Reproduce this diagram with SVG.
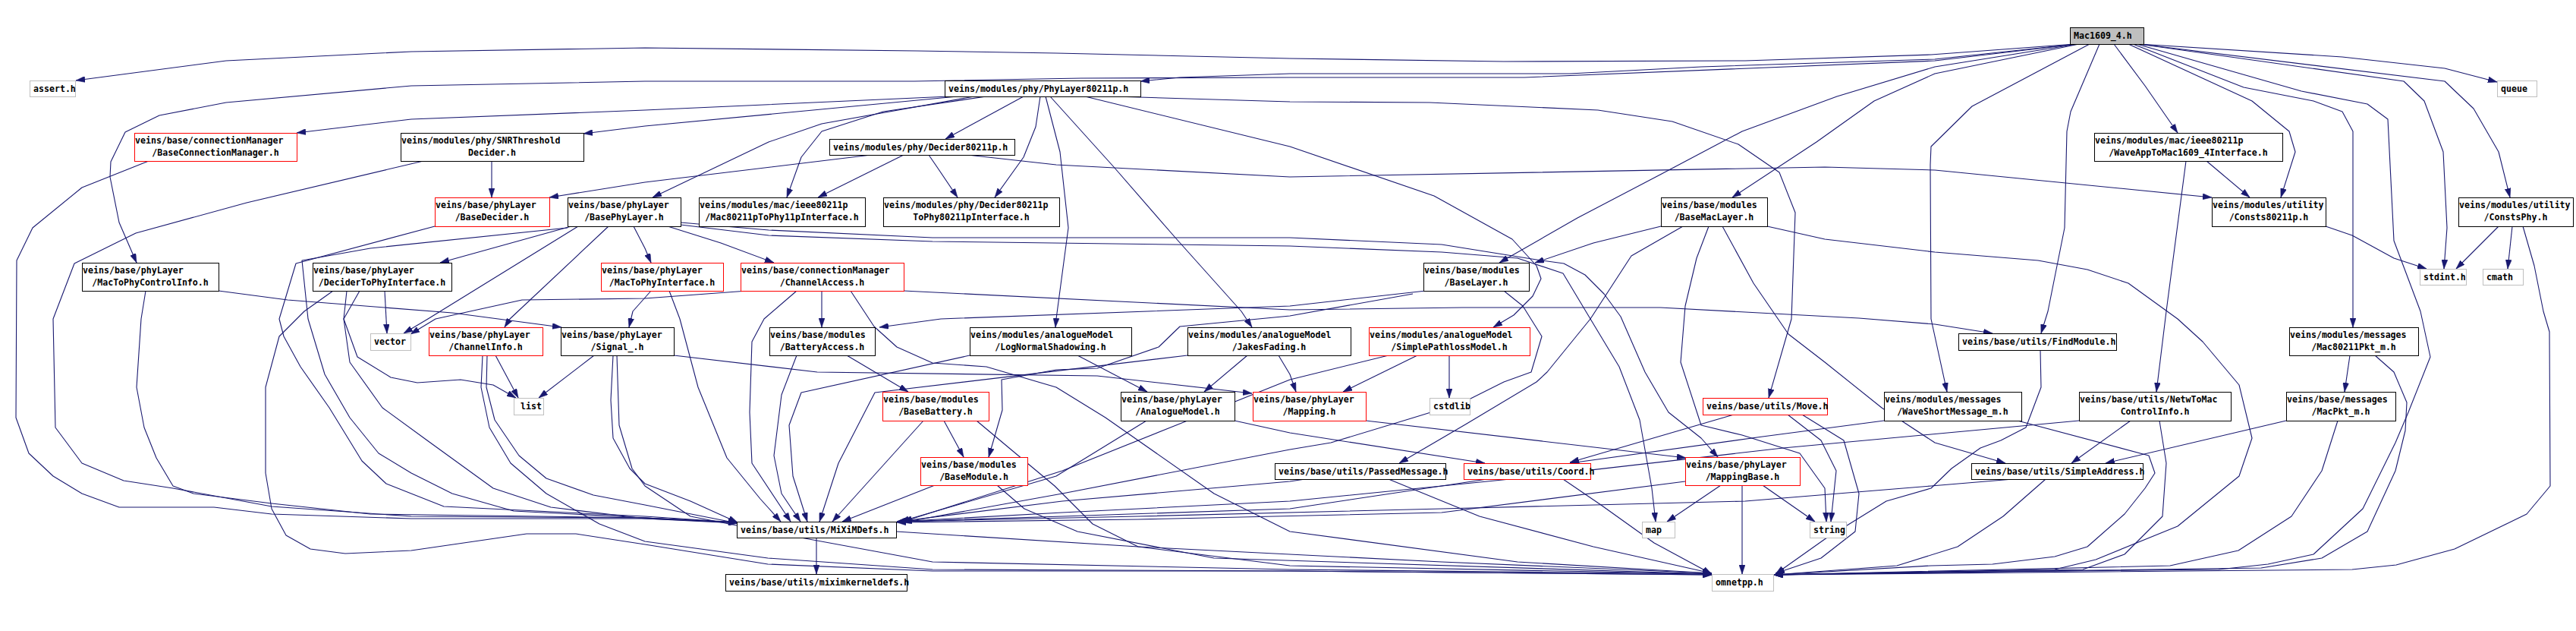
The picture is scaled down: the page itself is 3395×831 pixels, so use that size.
<svg xmlns="http://www.w3.org/2000/svg" width="3395" height="831" viewBox="0 0 3395 831">
<defs>
<marker id="a" markerUnits="userSpaceOnUse" markerWidth="12" markerHeight="8" refX="12" refY="4" orient="auto" viewBox="0 0 12 8">
<path d="M0,0 L12,4 L0,8 z" fill="#191970" stroke="#191970" stroke-width="0.5"/>
</marker>
<style>
.n rect{fill:#fff;stroke:#000;stroke-width:1}
.r rect{fill:#fff;stroke:#f00;stroke-width:1}
.s rect{fill:#fff;stroke:#bfbfbf;stroke-width:1}
.root rect{fill:#bfbfbf;stroke:#000;stroke-width:1}
rect{shape-rendering:crispEdges}
text{font-family:"DejaVu Sans Mono","Liberation Mono",monospace;font-size:11.6px;font-weight:bold;fill:#000}
.c{text-anchor:middle}
.e{fill:none;stroke:#191970;stroke-width:1.1;stroke-linejoin:round;marker-end:url(#a)}
</style>
</defs>
<rect x="0" y="0" width="3395" height="831" fill="#fff"/>
<g id="edges">
<polyline class="e" points="2735,58 2545,72 2300,80 1982,81 1700,77 1392,70 1208,67 850,63 542,68 298,80 100,106"/>
<polyline class="e" points="2737,58 2550,78 2242,88 2069,97 1700,97 1555,102 1503,107"/>
<polyline class="e" points="2737,58 2550,80 2009,102 1700,102 1425,103 1205,107 850,107 542,113 298,135 210,152 165,174 146,213 145,233 157,293 180,346"/>
<polyline class="e" points="2738,58 2550,88 2421,127 2296,173 2188,230 2079,287 1976,346"/>
<polyline class="e" points="2740,58 2550,97 2470,133 2394,187 2283,260"/>
<polyline class="e" points="2786,58 2827,113 2870,175"/>
<polyline class="e" points="2805,58 2968,133 3017,173 3025,200 3006,260"/>
<polyline class="e" points="2811,58 2957,115 3049,133 3087,147 3101,173 3101,431"/>
<polyline class="e" points="2816,58 3033,120 3120,137 3147,157 3155,317 3190,410 3203,470 3174,543 3157,583 3114,670 3049,730 2989,743 2924,750 2600,753 2338,757"/>
<polyline class="e" points="2819,58 3168,107 3195,133 3220,200 3225,300 3221,354"/>
<polyline class="e" points="2819,58 3222,107 3260,143 3293,200 3308,260"/>
<polyline class="e" points="2819,58 3087,75 3222,90 3291,108"/>
<polyline class="e" points="2767,58 2729,147 2724,173 2721,300 2699,410 2690,439"/>
<polyline class="e" points="2754,58 2599,140 2545,193 2544,217 2545,420 2566,516"/>
<polyline class="e" points="1251,127 850,145 542,157 391,175"/>
<polyline class="e" points="1262,127 850,166 769,176"/>
<polyline class="e" points="1284,127 1083,163 1013,187 860,260"/>
<polyline class="e" points="1300,127 1164,147 1083,173 1056,207 1037,260"/>
<polyline class="e" points="1349,127 1246,183"/>
<polyline class="e" points="1371,127 1365,167 1349,207 1311,260"/>
<polyline class="e" points="1378,127 1397,200 1408,300 1392,420 1391,431"/>
<polyline class="e" points="1384,127 1468,220 1549,313 1636,410 1650,431"/>
<polyline class="e" points="1430,127 1700,193 1890,258 1993,315 2025,350 2031,367 2020,390 1995,415 1968,431"/>
<polyline class="e" points="1468,127 1700,134 1884,135 2106,145 2204,160 2291,190 2345,227 2366,280 2361,420 2331,524"/>
<polyline class="e" points="196,212 108,247 43,300 22,343 21,550 38,597 70,627 108,650 157,668 282,668 358,677 542,683 850,683 972,688"/>
<polyline class="e" points="648,212 648,260"/>
<polyline class="e" points="558,212 325,267 179,307 98,347 70,420 73,563 108,610 163,633 228,643 358,667 542,680 850,682 972,688"/>
<polyline class="e" points="1148,204 850,240 724,260"/>
<polyline class="e" points="1191,204 1078,260"/>
<polyline class="e" points="1224,204 1235,220 1262,260"/>
<polyline class="e" points="1275,204 1392,217 1700,233 2405,220 2550,224 2915,260"/>
<polyline class="e" points="2908,212 2965,260"/>
<polyline class="e" points="2881,212 2855,410 2842,516"/>
<polyline class="e" points="573,298 390,347 368,420 374,443 396,483 434,537 450,563 477,607 509,637 585,667 850,680 972,688"/>
<polyline class="e" points="753,298 580,346"/>
<polyline class="e" points="748,300 488,327 398,343 406,420 428,493 461,550 499,597 542,623 596,650 677,673 850,682 972,688"/>
<polyline class="e" points="762,298 564,420 532,439"/>
<polyline class="e" points="802,298 672,420 665,431"/>
<polyline class="e" points="835,298 850,327 858,346"/>
<polyline class="e" points="880,298 950,320 1020,346"/>
<polyline class="e" points="897,293 1013,303 1229,313 1700,313 1900,322 2025,342 2061,347 2089,362 2114,387 2136,417 2168,490 2199,543 2242,577 2264,602"/>
<polyline class="e" points="897,296 1013,310 1229,318 1700,324 1900,332 2000,340 2060,360 2090,410 2134,483 2161,553 2177,643 2182,687"/>
<polyline class="e" points="288,383 379,395 596,412 740,431"/>
<polyline class="e" points="192,383 186,420 180,510 190,563 206,603 228,640 255,650 358,663 488,677 850,682 972,688"/>
<polyline class="e" points="507,383 510,439"/>
<polyline class="e" points="474,383 453,420 471,470 515,497 550,504 607,500 650,507 680,524"/>
<polyline class="e" points="457,383 453,420 461,477 504,537 563,580 650,643 726,668 850,683 972,689"/>
<polyline class="e" points="439,383 401,410 368,443 350,510 350,623 358,670 377,705 409,723 455,729 542,725 694,703 759,703 850,717 1012,743 1229,752 1700,752 2256,757"/>
<polyline class="e" points="858,383 834,410 829,431"/>
<polyline class="e" points="882,383 896,420 920,510 958,603 1002,657 1029,687"/>
<polyline class="e" points="985,383 850,393 688,395 574,420 541,440"/>
<polyline class="e" points="1083,383 1083,431"/>
<polyline class="e" points="1050,383 1007,420 991,450 988,543 991,610 1042,687"/>
<polyline class="e" points="1191,383 1700,408 1928,405 2188,405 2450,419 2550,427 2626,439"/>
<polyline class="e" points="1121,383 1152,430 1182,457 1229,478 1300,483 1392,510 1457,550 1600,650 1700,700 2000,740 2256,755"/>
<polyline class="e" points="653,468 683,524"/>
<polyline class="e" points="642,468 641,510 652,553 684,600 720,630 782,652 850,665 972,689"/>
<polyline class="e" points="636,468 634,510 645,563 673,610 720,650 790,690 850,713 1012,735 1229,750 1700,752 2256,757"/>
<polyline class="e" points="783,468 710,524"/>
<polyline class="e" points="888,468 1077,490 1446,495 1650,518"/>
<polyline class="e" points="808,468 805,527 808,577 830,617 850,637 910,660 972,688"/>
<polyline class="e" points="813,468 816,560 833,617 850,640 910,680 1012,700 1229,740 1700,750 2256,756"/>
<polyline class="e" points="1116,468 1197,516"/>
<polyline class="e" points="1050,468 1030,520 1020,600 1030,650 1055,687"/>
<polyline class="e" points="1244,554 1270,602"/>
<polyline class="e" points="1217,554 1097,687"/>
<polyline class="e" points="1287,554 1330,590 1390,640 1440,690 1500,720 1700,745 2256,756"/>
<polyline class="e" points="1232,639 1110,687"/>
<polyline class="e" points="1314,639 1350,670 1420,700 1600,735 2256,756"/>
<polyline class="e" points="1420,468 1512,516"/>
<polyline class="e" points="1278,468 1056,517 1040,560 1045,627 1064,687"/>
<polyline class="e" points="1644,468 1587,516"/>
<polyline class="e" points="1685,468 1700,493 1708,516"/>
<polyline class="e" points="1565,468 1153,517 1105,610 1080,687"/>
<polyline class="e" points="1511,554 1392,627 1186,687"/>
<polyline class="e" points="1627,554 1700,570 1957,610"/>
<polyline class="e" points="1800,554 2222,603"/>
<polyline class="e" points="1910,468 1910,524"/>
<polyline class="e" points="1868,468 1770,516"/>
<polyline class="e" points="1830,468 1700,500 1550,560 1400,620 1190,687"/>
<polyline class="e" points="1879,383 1700,403 1240,420 1159,431"/>
<polyline class="e" points="1982,383 2007,403 2032,443 2018,490 1982,503 1928,530 1863,550 1754,583 1700,592 1400,650 1190,688"/>
<polyline class="e" points="1862,387 1700,416 1555,430 1527,457 1446,485 1392,487 1320,500 1321,540 1303,602"/>
<polyline class="e" points="2189,298 2100,320 2023,346"/>
<polyline class="e" points="2218,298 2150,337 2096,420 2039,490 2025,503 1933,558 1844,610"/>
<polyline class="e" points="2252,298 2236,340 2221,403 2215,477 2242,560 2296,573 2372,597 2405,643 2407,687"/>
<polyline class="e" points="2270,298 2311,373 2357,440 2405,477 2480,537 2550,583 2643,610"/>
<polyline class="e" points="2329,298 2405,315 2550,332 2686,343 2751,355 2805,373 2870,420 2903,450 2951,507 2968,577 2951,627 2870,693 2762,737 2708,750 2338,757"/>
<polyline class="e" points="3065,298 3100,310 3155,340 3198,354"/>
<polyline class="e" points="3293,298 3237,354"/>
<polyline class="e" points="3311,298 3305,354"/>
<polyline class="e" points="3325,298 3340,350 3352,410 3360,437 3361,640 3330,677 3235,723 3158,744 3100,750 2338,757"/>
<polyline class="e" points="2689,461 2690,510 2670,563 2637,580 2610,590 2572,617 2545,643 2486,660 2405,710 2340,756"/>
<polyline class="e" points="3097,468 3090,516"/>
<polyline class="e" points="3130,468 3155,490 3172,530 3170,567 3157,620 3120,700 3060,735 2980,748 2338,757"/>
<polyline class="e" points="2483,554 2323,575 2069,610"/>
<polyline class="e" points="2659,554 2832,600 2840,623 2827,643 2800,677 2751,720 2708,733 2626,743 2545,745 2338,757"/>
<polyline class="e" points="2808,554 2730,610"/>
<polyline class="e" points="2846,554 2855,610 2850,680 2800,730 2745,750 2338,757"/>
<polyline class="e" points="2740,554 2545,572 2350,590 2000,630 1700,660 1400,675 1182,687"/>
<polyline class="e" points="3013,554 2775,610"/>
<polyline class="e" points="3081,554 3060,620 3020,680 2950,725 2860,745 2338,757"/>
<polyline class="e" points="2285,546 2069,609"/>
<polyline class="e" points="2356,546 2400,580 2420,620 2413,687"/>
<polyline class="e" points="2375,546 2430,580 2450,650 2445,700 2400,735 2340,755"/>
<polyline class="e" points="1720,631 1700,634 1400,660 1182,687"/>
<polyline class="e" points="1830,631 1950,680 2100,720 2256,755"/>
<polyline class="e" points="1960,631 1700,670 1400,680 1182,687"/>
<polyline class="e" points="2060,631 2110,665 2180,715 2256,756"/>
<polyline class="e" points="2268,639 2197,687"/>
<polyline class="e" points="2296,639 2296,756"/>
<polyline class="e" points="2323,639 2392,687"/>
<polyline class="e" points="2221,634 1900,675 1500,684 1182,688"/>
<polyline class="e" points="2653,631 2545,640 2300,660 1900,670 1500,680 1182,687"/>
<polyline class="e" points="2696,631 2640,680 2580,720 2500,745 2338,757"/>
<polyline class="e" points="1076,708 1076,756"/>
<polyline class="e" points="1181,700 1500,720 1900,740 2256,755"/>
</g>
<g id="node-mac1609" class="root"><rect x="2728.5" y="36.5" width="97" height="22"/><text x="2733" y="51">Mac1609_4.h</text></g>
<g id="node-assert" class="s"><rect x="39.5" y="106.5" width="60" height="21"/><text x="44" y="121">assert.h</text></g>
<g id="node-phylayer80211p" class="n"><rect x="1245.5" y="106.5" width="258" height="21"/><text x="1250" y="121">veins/modules/phy/PhyLayer80211p.h</text></g>
<g id="node-queue" class="s"><rect x="3291.5" y="106.5" width="52" height="21"/><text x="3296" y="121">queue</text></g>
<g id="node-baseconnectionmanager" class="r"><rect x="177.5" y="175.5" width="214" height="37"/><text x="178" y="189">veins/base/connectionManager</text><text class="c" x="284" y="205">/BaseConnectionManager.h</text></g>
<g id="node-snrthresholddecider" class="n"><rect x="528.5" y="175.5" width="241" height="37"/><text x="529" y="189">veins/modules/phy/SNRThreshold</text><text class="c" x="648.5" y="205">Decider.h</text></g>
<g id="node-waveapptomac" class="n"><rect x="2760.5" y="175.5" width="248" height="37"/><text x="2761" y="189">veins/modules/mac/ieee80211p</text><text class="c" x="2884" y="205">/WaveAppToMac1609_4Interface.h</text></g>
<g id="node-decider80211p" class="n"><rect x="1093.5" y="183.5" width="244" height="21"/><text x="1098" y="198">veins/modules/phy/Decider80211p.h</text></g>
<g id="node-basedecider" class="r"><rect x="573.5" y="260.5" width="151" height="38"/><text x="574" y="274">veins/base/phyLayer</text><text class="c" x="648.5" y="290">/BaseDecider.h</text></g>
<g id="node-basephylayer" class="n"><rect x="748.5" y="260.5" width="149" height="38"/><text x="749" y="274">veins/base/phyLayer</text><text class="c" x="822.5" y="290">/BasePhyLayer.h</text></g>
<g id="node-mac80211ptophy11p" class="n"><rect x="921.5" y="260.5" width="219" height="38"/><text x="922" y="274">veins/modules/mac/ieee80211p</text><text class="c" x="1030.5" y="290">/Mac80211pToPhy11pInterface.h</text></g>
<g id="node-decider80211ptophy" class="n"><rect x="1164.5" y="260.5" width="232" height="38"/><text x="1165" y="274">veins/modules/phy/Decider80211p</text><text class="c" x="1280" y="290">ToPhy80211pInterface.h</text></g>
<g id="node-basemaclayer" class="n"><rect x="2189.5" y="260.5" width="140" height="38"/><text x="2190" y="274">veins/base/modules</text><text class="c" x="2259" y="290">/BaseMacLayer.h</text></g>
<g id="node-consts80211p" class="n"><rect x="2915.5" y="260.5" width="150" height="38"/><text x="2916" y="274">veins/modules/utility</text><text class="c" x="2990" y="290">/Consts80211p.h</text></g>
<g id="node-constsphy" class="n"><rect x="3240.5" y="260.5" width="151" height="38"/><text x="3241" y="274">veins/modules/utility</text><text class="c" x="3315.5" y="290">/ConstsPhy.h</text></g>
<g id="node-mactophycontrolinfo" class="n"><rect x="108.5" y="346.5" width="180" height="37"/><text x="109" y="360">veins/base/phyLayer</text><text class="c" x="198" y="376">/MacToPhyControlInfo.h</text></g>
<g id="node-decidertophyinterface" class="n"><rect x="412.5" y="346.5" width="183" height="37"/><text x="413" y="360">veins/base/phyLayer</text><text class="c" x="503.5" y="376">/DeciderToPhyInterface.h</text></g>
<g id="node-mactophyinterface" class="r"><rect x="792.5" y="346.5" width="161" height="37"/><text x="793" y="360">veins/base/phyLayer</text><text class="c" x="872.5" y="376">/MacToPhyInterface.h</text></g>
<g id="node-channelaccess" class="r"><rect x="976.5" y="346.5" width="215" height="37"/><text x="977" y="360">veins/base/connectionManager</text><text class="c" x="1083.5" y="376">/ChannelAccess.h</text></g>
<g id="node-baselayer" class="n"><rect x="1876.5" y="346.5" width="139" height="37"/><text x="1877" y="360">veins/base/modules</text><text class="c" x="1945.5" y="376">/BaseLayer.h</text></g>
<g id="node-stdint" class="s"><rect x="3189.5" y="354.5" width="61" height="21"/><text x="3194" y="369">stdint.h</text></g>
<g id="node-cmath" class="s"><rect x="3272.5" y="354.5" width="53" height="21"/><text x="3277" y="369">cmath</text></g>
<g id="node-vector" class="s"><rect x="488.5" y="439.5" width="53" height="22"/><text x="493" y="454">vector</text></g>
<g id="node-channelinfo" class="r"><rect x="565.5" y="431.5" width="150" height="37"/><text x="566" y="445">veins/base/phyLayer</text><text class="c" x="640" y="461">/ChannelInfo.h</text></g>
<g id="node-signal" class="n"><rect x="739.5" y="431.5" width="149" height="37"/><text x="740" y="445">veins/base/phyLayer</text><text class="c" x="813.5" y="461">/Signal_.h</text></g>
<g id="node-batteryaccess" class="n"><rect x="1014.5" y="431.5" width="139" height="37"/><text x="1015" y="445">veins/base/modules</text><text class="c" x="1083.5" y="461">/BatteryAccess.h</text></g>
<g id="node-lognormalshadowing" class="n"><rect x="1278.5" y="431.5" width="213" height="37"/><text x="1279" y="445">veins/modules/analogueModel</text><text class="c" x="1384.5" y="461">/LogNormalShadowing.h</text></g>
<g id="node-jakesfading" class="n"><rect x="1565.5" y="431.5" width="215" height="37"/><text x="1566" y="445">veins/modules/analogueModel</text><text class="c" x="1672.5" y="461">/JakesFading.h</text></g>
<g id="node-simplepathlossmodel" class="r"><rect x="1804.5" y="431.5" width="212" height="37"/><text x="1805" y="445">veins/modules/analogueModel</text><text class="c" x="1910" y="461">/SimplePathlossModel.h</text></g>
<g id="node-findmodule" class="n"><rect x="2581.5" y="439.5" width="208" height="22"/><text x="2586" y="454">veins/base/utils/FindModule.h</text></g>
<g id="node-mac80211pkt" class="n"><rect x="3017.5" y="431.5" width="170" height="37"/><text x="3018" y="445">veins/modules/messages</text><text class="c" x="3102" y="461">/Mac80211Pkt_m.h</text></g>
<g id="node-list" class="s"><rect x="677.5" y="524.5" width="39" height="22"/><text x="686" y="539">list</text></g>
<g id="node-basebattery" class="r"><rect x="1163.5" y="516.5" width="140" height="38"/><text x="1164" y="530">veins/base/modules</text><text class="c" x="1233" y="546">/BaseBattery.h</text></g>
<g id="node-analoguemodel" class="n"><rect x="1477.5" y="516.5" width="150" height="38"/><text x="1478" y="530">veins/base/phyLayer</text><text class="c" x="1552" y="546">/AnalogueModel.h</text></g>
<g id="node-mapping" class="r"><rect x="1651.5" y="516.5" width="149" height="38"/><text x="1652" y="530">veins/base/phyLayer</text><text class="c" x="1725.5" y="546">/Mapping.h</text></g>
<g id="node-cstdlib" class="s"><rect x="1884.5" y="524.5" width="53" height="22"/><text x="1889" y="539">cstdlib</text></g>
<g id="node-move" class="r"><rect x="2244.5" y="524.5" width="164" height="22"/><text x="2249" y="539">veins/base/utils/Move.h</text></g>
<g id="node-waveshortmessage" class="n"><rect x="2483.5" y="516.5" width="181" height="38"/><text x="2484" y="530">veins/modules/messages</text><text class="c" x="2573.5" y="546">/WaveShortMessage_m.h</text></g>
<g id="node-netwtomaccontrolinfo" class="n"><rect x="2740.5" y="516.5" width="200" height="38"/><text x="2741" y="530">veins/base/utils/NetwToMac</text><text class="c" x="2840" y="546">ControlInfo.h</text></g>
<g id="node-macpkt" class="n"><rect x="3013.5" y="516.5" width="144" height="38"/><text x="3014" y="530">veins/base/messages</text><text class="c" x="3085" y="546">/MacPkt_m.h</text></g>
<g id="node-basemodule" class="r"><rect x="1213.5" y="602.5" width="141" height="37"/><text x="1214" y="616">veins/base/modules</text><text class="c" x="1283.5" y="632">/BaseModule.h</text></g>
<g id="node-passedmessage" class="n"><rect x="1680.5" y="610.5" width="225" height="21"/><text x="1685" y="625">veins/base/utils/PassedMessage.h</text></g>
<g id="node-coord" class="r"><rect x="1929.5" y="610.5" width="167" height="21"/><text x="1934" y="625">veins/base/utils/Coord.h</text></g>
<g id="node-mappingbase" class="r"><rect x="2221.5" y="602.5" width="151" height="37"/><text x="2222" y="616">veins/base/phyLayer</text><text class="c" x="2296.5" y="632">/MappingBase.h</text></g>
<g id="node-simpleaddress" class="n"><rect x="2598.5" y="610.5" width="226" height="21"/><text x="2603" y="625">veins/base/utils/SimpleAddress.h</text></g>
<g id="node-miximdefs" class="n"><rect x="971.5" y="687.5" width="210" height="21"/><text x="976" y="702">veins/base/utils/MiXiMDefs.h</text></g>
<g id="node-map" class="s"><rect x="2164.5" y="687.5" width="43" height="21"/><text x="2169" y="702">map</text></g>
<g id="node-string" class="s"><rect x="2385.5" y="687.5" width="48" height="21"/><text x="2390" y="702">string</text></g>
<g id="node-miximkerneldefs" class="n"><rect x="956.5" y="756.5" width="239" height="22"/><text x="961" y="771">veins/base/utils/miximkerneldefs.h</text></g>
<g id="node-omnetpp" class="s"><rect x="2256.5" y="756.5" width="81" height="22"/><text x="2261" y="771">omnetpp.h</text></g>
</svg>
